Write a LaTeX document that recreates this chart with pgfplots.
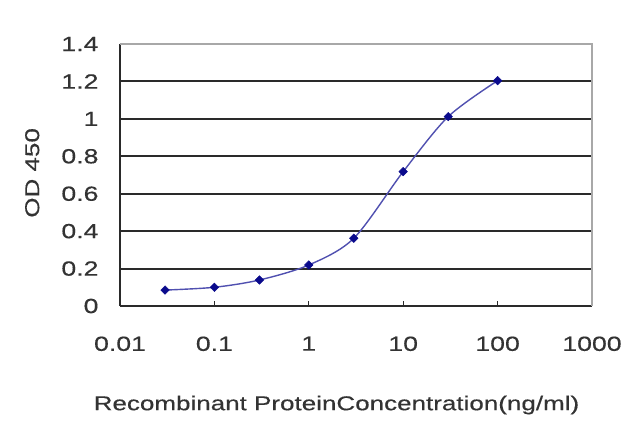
\documentclass[border=0pt]{standalone}
\usepackage{fontspec}
\setmainfont[FakeStretch=1.3, FakeBold=0.4]{Liberation Sans}
\usepackage{pgfplots}
\pgfplotsset{compat=1.18}
\definecolor{txt}{HTML}{333333}
\definecolor{gridc}{HTML}{2A2A2A}
\definecolor{framec}{HTML}{A8A8A8}
\definecolor{mk}{HTML}{0A0A8C}
\definecolor{ln}{HTML}{5050B0}
\begin{document}
\begin{tikzpicture}
\path[use as bounding box] (0,0) rectangle (640pt,427pt);
\begin{axis}[
  at={(120pt,121pt)}, anchor=south west,
  scale only axis, width=472pt, height=262pt,
  xmode=log, xmin=0.01, xmax=1000,
  ymin=0, ymax=1.4,
  xtick={0.01,0.1,1,10,100,1000},
  xticklabels={0.01,0.1,1,10,100,1000},
  ytick={0,0.2,0.4,0.6,0.8,1,1.2,1.4},
  yticklabels={0,0.2,0.4,0.6,0.8,1,1.2,1.4},
  xminorticks=false, yminorticks=false,
  separate axis lines,
  axis x line*=bottom, axis y line*=left,
  axis line style={gridc, line width=2pt, -},
  ymajorgrids, major grid style={gridc, line width=2pt},
  xtick align=inside, major tick length=5pt,
  ytick style={draw=none},
  xtick style={gridc, line width=1.2pt},
  /pgf/number format/assume math mode=true,
  tick label style={font=\fontsize{20.5}{24}\selectfont, text=txt},
  x tick label style={yshift=-27pt},
  y tick label style={xshift=-18pt},
  label style={font=\fontsize{20}{24}\selectfont, text=txt},
  xlabel={Recombinant ProteinConcentration(ng/ml)},
  ylabel={OD 450},
  xlabel style={at={(axis description cs:0.4587,-0.378)}, anchor=center},
  ylabel style={at={(axis description cs:-0.186,0.508)}, anchor=center, rotate=0},
  clip=false,
]
\addplot[ln, line width=1.4pt, smooth, tension=0.5,
  mark=square*, mark size=3pt, mark options={mk, fill=mk, draw=mk, line width=0.5pt, rotate=45}]
  coordinates {(0.03,0.085) (0.1,0.10) (0.3,0.139) (1,0.219) (3,0.362) (10,0.718) (30,1.012) (100,1.204)};
\draw[framec, line width=2pt] (rel axis cs:0,1) -- (rel axis cs:1,1) -- (rel axis cs:1,0);
\end{axis}
\end{tikzpicture}
\end{document}
